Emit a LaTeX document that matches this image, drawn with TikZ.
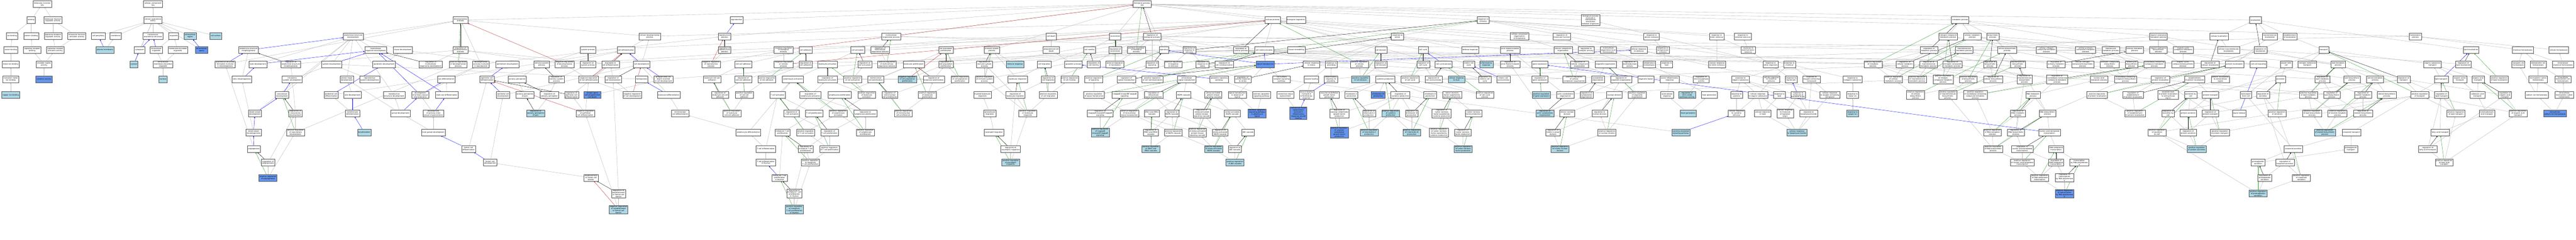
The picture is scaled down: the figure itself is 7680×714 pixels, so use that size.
\documentclass[tikz,border=0pt]{standalone}
\usepackage{fontspec}
\setmainfont{DejaVu Sans}
\usetikzlibrary{arrows.meta,backgrounds}
\definecolor{lb}{HTML}{ADD8E6}
\definecolor{cfb}{HTML}{6495ED}
\definecolor{eg}{HTML}{BEBEBE}
\definecolor{gg}{HTML}{2E9B2E}
\definecolor{rr}{HTML}{C0282D}
\definecolor{bd}{HTML}{505050}
\tikzset{
 nb/.style={draw=bd, line width=0.9pt, fill=white, align=center, font=\fontsize{5.2}{6}\selectfont, inner xsep=2.5pt, inner ysep=1.5pt, minimum height=20pt},
 nl/.style={nb, fill=lb},
 nc/.style={nb, fill=cfb},
 tip/.style={-{Triangle[length=3.6pt,width=3pt]}},
 ge/.style={tip, draw=eg, fill=eg, line width=0.6pt},
 be/.style={tip, draw=blue, line width=0.6pt},
 ke/.style={tip, draw=black, line width=0.6pt},
 gre/.style={tip, draw=gg, line width=0.6pt},
 re/.style={tip, draw=rr, line width=0.6pt}
}
\newcommand{\GN}[4]{\node[nb] (#1) at (#2,#3) {#4};}
\newcommand{\GL}[4]{\node[nl] (#1) at (#2,#3) {#4};}
\newcommand{\GC}[4]{\node[nc] (#1) at (#2,#3) {#4};}
\begin{document}
\begin{tikzpicture}[x=1pt,y=-1pt]
\useasboundingbox (0,0) rectangle (7680,714);
% ---------- molecular function ----------
\GN{mf}{126}{12}{molecular\_function\\ll2s}
\GN{binding}{93}{60}{binding}
\GN{mfreg}{158}{60}{molecular function\\regulator activity}
\GN{ionb}{36}{107}{ion binding}
\GN{protb}{93}{107}{protein binding}
\GN{srra}{158}{107}{signaling receptor\\regulator activity}
\GN{mfact}{229}{107}{molecular function\\activator activity}
\GN{cationb}{32}{149}{cation binding}
\GN{srb}{96}{149}{signaling receptor\\binding}
\GN{sraa}{165}{149}{signaling receptor\\activator activity}
\GN{metalb}{32}{191}{metal ion binding}
\GN{rla}{131}{191}{receptor ligand\\activity}
\GN{tmib}{32}{236}{transition metal\\ion binding}
\GC{cytact}{131}{236}{cytokine activity}
\GL{copper}{32}{283}{copper ion binding}
% ---------- cellular component ----------
\GN{cc}{456}{12}{cellular\_component\\ll2s}
\GN{cae}{456}{60}{cellular anatomical\\entity}
\GN{cellper}{293}{107}{cell periphery}
\GN{membrane}{345}{107}{membrane}
\GN{ias}{456}{107}{intracellular\\anatomical structure}
\GN{organelle}{518}{107}{organelle}
\GL{extreg}{567}{107}{extracellular\\region}
\GL{cellsurf}{643}{107}{cell surface}
\GL{pm}{313}{149}{plasma membrane}
\GN{cytoplasm}{416}{149}{cytoplasm}
\GN{intorg}{466}{149}{intracellular\\organelle}
\GN{mbo}{530}{149}{membrane-bounded\\organelle}
\GC{extspace}{601}{149}{extracellular\\space}
\GL{cytosol}{399}{191}{cytosol}
\GN{imbo}{486}{191}{intracellular\\membrane-bounded\\organelle}
\GL{nucleus}{486}{236}{nucleus}
% ---------- development ----------
\GN{asd}{1053}{108}{anatomical structure\\development}
\GN{asm}{741}{149}{anatomical structure\\morphogenesis}
\GN{mod}{1120}{149}{multicellular\\organism development}
\GN{tissued}{1201}{149}{tissue development}
\GN{asfim}{671}{191}{anatomical structure\\formation involved\\in morphogenesis}
\GN{tubed}{769}{191}{tube development}
\GN{rasm}{867}{191}{regulation of\\anatomical structure\\morphogenesis}
\GN{sysdev}{989}{191}{system development}
\GN{epidev}{1145}{191}{epidermis development}
\GN{rmod}{1284}{191}{regulation of\\multicellular\\organismal development}
\GN{tubem}{721}{236}{tube morphogenesis}
\GN{circd}{871}{236}{circulatory\\system development}
\GN{aod}{1034}{236}{animal organ\\development}
\GN{rsd}{1102}{236}{reproductive\\system development}
\GN{vascd}{841}{283}{vasculature\\development}
\GN{epicd}{987}{283}{epidermal cell\\differentiation}
\GN{skind}{1051}{283}{skin development}
\GN{rsd2}{1175}{283}{reproductive\\structure development}
\GN{dpsc}{1253}{283}{development\\of primary sexual\\characteristics}
\GN{bvd}{760}{337}{blood vessel\\development}
\GN{rvd}{881}{337}{regulation of\\vasculature\\development}
\GN{kerd}{1051}{337}{keratinocyte\\differentiation}
\GN{gonad}{1194}{337}{gonad development}
\GN{dpmsc}{1292}{337}{development\\of primary male\\sexual characteristics}
\GN{bvm}{756}{394}{blood vessel\\morphogenesis}
\GN{prvd}{881}{394}{positive regulation\\of vasculature\\development}
\GL{kerat}{1086}{394}{keratinization}
\GN{mgd}{1292}{394}{male gonad development}
\GN{angio}{757}{443}{angiogenesis}
\GN{rangio}{799}{484}{regulation of\\angiogenesis}
\GC{prangio}{799}{529}{positive regulation\\of angiogenesis}
\GN{devp}{1373}{60}{developmental\\process}
\GN{rdevp}{1373}{149}{regulation of\\developmental\\process}
\GN{sysproc}{1753}{149}{system process}
\GN{celldiff}{1866}{149}{cell differentiation}
\GN{cdp}{1937}{108}{cellular developmental\\process}
\GN{prdevp}{1366}{191}{positive regulation\\of developmental\\process}
\GN{dpir}{1434}{191}{developmental\\process involved\\in reproduction}
\GN{epithd}{1513}{191}{epithelium development}
\GN{nsp}{1615}{191}{nervous system\\process}
\GN{nrdevp}{1683}{191}{negative regulation\\of developmental\\process}
\GN{rsysp}{1753}{191}{regulation of\\system process}
\GN{rcelldiff}{1820}{191}{regulation of\\cell differentiation}
\GN{celldev}{1913}{191}{cell development}
\GN{sexdiff}{1331}{236}{sex differentiation}
\GN{epcd}{1452}{236}{epithelial cell\\differentiation}
\GN{sensp}{1542}{236}{sensory perception}
\GN{rnsp}{1659}{236}{regulation of\\nervous system\\process}
\GN{nrcd}{1755}{236}{negative regulation\\of cell differentiation}
\GN{rcelldev}{1828}{236}{regulation of\\cell development}
\GN{hemo}{1913}{236}{hemopoiesis}
\GN{msd}{1332}{283}{male sex differentiation}
\GN{epcdev}{1500}{283}{epithelial cell\\development}
\GN{spp}{1565}{283}{sensory perception\\of pain}
\GN{rsp}{1638}{283}{regulation of\\sensory perception}
\GN{repcd}{1704}{283}{regulation of\\epithelial cell\\differentiation}
\GC{egcpcd}{1766}{283}{ectopic germ\\cell programmed\\cell death}
\GN{nrcdev}{1885}{283}{negative regulation\\of cell development}
\GL{rspp}{1597}{337}{regulation of\\sensory perception\\of pain}
\GN{nrepcd}{1745}{337}{negative regulation\\of epithelial\\cell differentiation}
\GN{scd}{1397}{443}{Sertoli cell\\differentiation}
\GN{scdev}{1461}{484}{Sertoli cell\\development}
\GN{escb}{1762}{529}{establishment\\of Sertoli cell\\barrier}
\GN{rescb}{1844}{576}{regulation of\\establishment\\of Sertoli cell\\barrier}
\GL{nrescb}{1844}{624}{negative regulation\\of establishment\\of Sertoli cell\\barrier}
% ---------- reproduction / adhesion / lymphocytes ----------
\GN{repro}{2196}{60}{reproduction}
\GN{reprop}{2160}{108}{reproductive\\process}
\GN{rreprop}{2160}{149}{regulation of\\reproductive\\process}
\GN{nrbp}{2336}{149}{negative regulation\\of biological\\process}
\GN{celladh}{2402}{149}{cell adhesion}
\GN{cellact}{2557}{149}{cell activation}
\GN{nrrp}{2120}{191}{negative regulation\\of reproductive\\process}
\GN{ccadh}{2216}{191}{cell-cell adhesion}
\GN{nrcp}{2336}{191}{negative regulation\\of cellular\\process}
\GN{rcelladh}{2402}{191}{regulation of\\cell adhesion}
\GN{leukact}{2467}{191}{leukocyte activation}
\GN{rcellact}{2578}{191}{regulation of\\cell activation}
\GN{pcdinv}{1978}{236}{programmed cell\\death involved\\in cell development}
\GN{lcca}{2123}{236}{leukocyte cell-cell\\adhesion}
\GN{rccadh}{2216}{236}{regulation of\\cell-cell adhesion}
\GN{prcelladh}{2286}{236}{positive regulation\\of cell adhesion}
\GN{lymact}{2364}{236}{lymphocyte activation}
\GN{rleukact}{2467}{236}{regulation of\\leukocyte activation}
\GN{prcellact}{2542}{236}{positive regulation\\of cell activation}
\GN{leukdiff}{1994}{283}{leukocyte differentiation}
\GN{rlcca}{2147}{283}{regulation of\\leukocyte cell-cell\\adhesion}
\GN{prccadh}{2219}{283}{positive regulation\\of cell-cell\\adhesion}
\GN{tcellact}{2318}{283}{T cell activation}
\GN{rlymact}{2416}{283}{regulation of\\lymphocyte activation}
\GN{lymprolif}{2503}{283}{lymphocyte proliferation}
\GN{prleukact}{2584}{283}{positive regulation\\of leukocyte\\activation}
\GN{mcd}{2028}{337}{mononuclear\\cell differentiation}
\GN{prlcca}{2182}{337}{positive regulation\\of leukocyte\\cell-cell adhesion}
\GN{rtca}{2360}{337}{regulation of\\T cell activation}
\GN{tcp}{2427}{337}{T cell proliferation}
\GN{prlymact}{2499}{337}{positive regulation\\of lymphocyte\\activation}
\GN{rlymprolif}{2580}{337}{regulation of\\lymphocyte proliferation}
\GN{lymdiff}{2231}{394}{lymphocyte differentiation}
\GN{itcp}{2333}{394}{immature T cell\\proliferation}
\GN{prtca}{2402}{394}{positive regulation\\of T cell activation}
\GN{rtcp}{2473}{394}{regulation of\\T cell proliferation}
\GN{prlymprolif}{2580}{394}{positive regulation\\of lymphocyte\\proliferation}
\GN{tcd}{2283}{443}{T cell differentiation}
\GN{ritcp}{2402}{443}{regulation of\\immature T cell\\proliferation}
\GN{prtcp}{2473}{443}{positive regulation\\of T cell proliferation}
\GN{tcdt}{2283}{484}{T cell differentiation\\in thymus}
\GN{pritcp}{2416}{484}{positive regulation\\of immature\\T cell proliferation}
\GN{itcpt}{2324}{529}{immature T cell\\proliferation\\in thymus}
\GN{ritcpt}{2368}{576}{regulation of\\immature T cell\\proliferation\\in thymus}
\GL{pritcpt}{2368}{624}{positive regulation\\of immature\\T cell proliferation\\in thymus}
% ---------- proliferation / immune / migration ----------
\GN{mop}{2657}{108}{multicellular\\organismal process}
\GN{celldeath}{3134}{108}{cell death}
\GN{rmop}{2624}{149}{regulation of\\multicellular\\organismal process}
\GN{cpp}{2820}{149}{cell population\\proliferation}
\GN{isp}{2957}{149}{immune system\\process}
\GN{pcd}{3134}{149}{programmed cell\\death}
\GN{prmop}{2644}{191}{positive regulation\\of multicellular\\organismal process}
\GN{leukprolif}{2724}{191}{leukocyte proliferation}
\GN{rcpp}{2820}{191}{regulation of\\cell population\\proliferation}
\GN{risp}{2935}{191}{regulation of\\immune system\\process}
\GL{immresp}{3026}{191}{immune response}
\GN{cellmig}{3113}{191}{cell migration}
\GN{apoptotic}{3200}{191}{apoptotic process}
\GN{mcprolif}{2611}{236}{mononuclear\\cell proliferation}
\GL{nrcpp}{2705}{236}{negative regulation\\of cell population\\proliferation}
\GN{rleukprolif}{2784}{236}{regulation of\\leukocyte proliferation}
\GN{prcpp}{2862}{236}{positive regulation\\of cell population\\proliferation}
\GN{prisp}{2935}{236}{positive regulation\\of immune system\\process}
\GN{leukmig}{3034}{236}{leukocyte migration}
\GN{rcellmig}{3125}{236}{regulation of\\cell migration}
\GN{prcellmot}{3189}{236}{positive regulation\\of cell motility}
\GN{rmcprolif}{2653}{283}{regulation of\\mononuclear\\cell proliferation}
\GN{prleukprolif}{2765}{283}{positive regulation\\of leukocyte\\proliferation}
\GN{mlm}{2929}{283}{myeloid leukocyte\\migration}
\GN{rleukmig}{3027}{283}{regulation of\\leukocyte migration}
\GN{prcellmig}{3125}{283}{positive regulation\\of cell migration}
\GN{prmcprolif}{2693}{337}{positive regulation\\of mononuclear\\cell proliferation}
\GN{granmig}{2951}{337}{granulocyte\\migration}
\GN{prleukmig}{3064}{337}{positive regulation\\of leukocyte\\migration}
\GN{neutmig}{2963}{394}{neutrophil migration}
\GN{rneutmig}{3013}{443}{regulation of\\neutrophil migration}
\GL{prneutmig}{3013}{484}{positive regulation\\of neutrophil\\migration}
% ---------- signaling ----------
\GN{bp}{3405}{12}{biological\_process\\ll2s}
\GN{cellproc}{3794}{60}{cellular process}
\GN{bioreg}{3864}{60}{biological regulation}
\GN{locomotion}{3325}{108}{locomotion}
\GN{rbp}{3435}{108}{regulation of\\biological process}
\GN{cellmot}{3248}{149}{cell motility}
\GN{rloco}{3325}{149}{regulation of\\locomotion}
\GN{prbp}{3388}{149}{positive regulation\\of biological\\process}
\GN{signaling}{3470}{149}{signaling}
\GN{rrs}{3546}{149}{regulation of\\response to\\stimulus}
\GN{rcp}{3700}{149}{regulation of\\cellular process}
\GN{cellcomm}{3769}{149}{cell communication}
\GN{tissrem}{3865}{149}{tissue remodeling}
\GN{rcellmot}{3261}{191}{regulation of\\cell motility}
\GN{prloco}{3324}{191}{positive regulation\\of locomotion}
\GN{rsignaling}{3435}{191}{regulation of\\signaling}
\GN{prrs}{3498}{191}{positive regulation\\of response\\to stimulus}
\GN{rrstress}{3585}{191}{regulation of\\response to\\stress}
\GN{rcc}{3650}{191}{regulation of\\cell communication}
\GC{sigtrans}{3772}{191}{signal transduction}
\GN{prsignaling}{3261}{236}{positive regulation\\of signaling}
\GN{rst}{3358}{236}{regulation of\\signal transduction}
\GN{prcc}{3436}{236}{positive regulation\\of cell communication}
\GN{ist}{3538}{236}{intracellular\\signal transduction}
\GN{asp}{3635}{236}{apoptotic signaling\\pathway}
\GN{rcrs}{3705}{236}{regulation of\\cellular response\\to stress}
\GN{csrsp}{3821}{236}{cell surface\\receptor signaling\\pathway}
\GN{prst}{3262}{283}{positive regulation\\of signal transduction}
\GN{ikb}{3353}{283}{I-kappaB kinase/NF-kappaB\\signaling}
\GN{rist}{3439}{283}{regulation of\\intracellular\\signal transduction}
\GN{mapk}{3529}{283}{MAPK cascade}
\GN{sapk}{3617}{283}{stress-activated\\protein kinase\\signaling cascade}
\GN{stal}{3689}{283}{signal transduction\\in absence of\\ligand}
\GN{easp}{3761}{283}{extrinsic apoptotic\\signaling pathway}
\GN{ctr}{3832}{283}{connective tissue\\replacement}
\GN{rikb}{3280}{337}{regulation of\\I-kappaB kinase/NF-kappaB\\signaling}
\GN{prist}{3367}{337}{positive regulation\\of intracellular\\signal transduction}
\GN{erk}{3434}{337}{ERK1 and ERK2\\cascade}
\GN{rmapk}{3494}{337}{regulation of\\MAPK cascade}
\GN{rsapk}{3583}{337}{regulation of\\stress-activated\\protein kinase\\signaling cascade}
\GN{samapk}{3674}{337}{stress-activated\\MAPK cascade}
\GC{easpal}{3748}{337}{extrinsic apoptotic\\signaling pathway\\in absence of\\ligand}
\GL{prikb}{3280}{394}{positive regulation\\of I-kappaB\\kinase/NF-kappaB\\signaling}
\GN{rerk}{3431}{394}{regulation of\\ERK1 and ERK2\\cascade}
\GN{prmapk}{3498}{394}{positive regulation\\of MAPK cascade}
\GN{prsapk}{3570}{394}{positive regulation\\of stress-activated\\protein kinase\\signaling cascade}
\GN{rsamapk}{3638}{394}{regulation of\\stress-activated\\MAPK cascade}
\GN{jnk}{3721}{394}{JNK cascade}
\GL{prerk}{3431}{443}{positive regulation\\of ERK1 and\\ERK2 cascade}
\GL{prsamapk}{3618}{443}{positive regulation\\of stress-activated\\MAPK cascade}
\GN{rjnk}{3681}{443}{regulation of\\JNK cascade}
\GL{prjnk}{3682}{484}{positive regulation\\of JNK cascade}
% ---------- stress / cell cycle / cytokines ----------
\GN{rts}{4422}{60}{response to\\stimulus}
\GN{rtstress}{4166}{108}{response to\\stress}
\GN{celldiv}{4117}{149}{cell division}
\GN{cellcycle}{4243}{149}{cell cycle}
\GN{defresp}{4383}{149}{defense response}
\GN{afbp}{4502}{149}{actin filament-based\\process}
\GN{crstress}{3910}{191}{cellular response\\to stress}
\GN{rtw}{3969}{191}{response to\\wounding}
\GN{prcp}{4053}{191}{positive regulation\\of cellular\\process}
\GN{rcelldiv}{4117}{191}{regulation of\\cell division}
\GN{rcellcycle}{4243}{191}{regulation of\\cell cycle}
\GN{ccp}{4304}{191}{cell cycle process}
\GN{mcc}{4379}{191}{mitotic cell\\cycle}
\GL{inflresp}{4431}{191}{inflammatory\\response}
\GN{rafbp}{4502}{191}{regulation of\\actin filament-based\\process}
\GN{woundh}{3910}{236}{wound healing}
\GN{irtw}{3968}{236}{inflammatory\\response to\\wounding}
\GL{prcelldiv}{4056}{236}{positive regulation\\of cell division}
\GN{cytprod}{4130}{236}{cytokine production}
\GN{prcellcycle}{4204}{236}{positive regulation\\of cell cycle}
\GN{rccp}{4274}{236}{regulation of\\cell cycle process}
\GL{crheat}{4342}{236}{cellular response\\to heat}
\GN{rmcc}{4427}{236}{regulation of\\mitotic cell\\cycle}
\GN{mccp}{4482}{236}{mitotic cell\\cycle process}
\GN{whiir}{3895}{283}{wound healing\\involved in\\inflammatory\\response}
\GN{vegfp}{3963}{283}{vascular endothelial\\growth factor\\production}
\GN{il2p}{4029}{283}{interleukin-2\\production}
\GC{il33p}{4109}{283}{interleukin-33\\production}
\GN{rcytprod}{4175}{283}{regulation of\\cytokine production}
\GN{il6p}{4264}{283}{interleukin-6\\production}
\GN{tnfsfp}{4329}{283}{tumor necrosis\\factor superfamily\\cytokine production}
\GN{prccp}{4427}{283}{positive regulation\\of cell cycle\\process}
\GC{ctrinv}{3871}{337}{connective tissue\\replacement\\involved in\\inflammatory\\response wound\\healing}
\GN{rvegfp}{3993}{337}{regulation of\\vascular endothelial\\growth factor\\production}
\GN{ril2p}{4082}{337}{regulation of\\interleukin-2\\production}
\GL{prcytprod}{4146}{337}{positive regulation\\of cytokine\\production}
\GN{ril6p}{4209}{337}{regulation of\\interleukin-6\\production}
\GN{rtnfsfp}{4298}{337}{regulation of\\tumor necrosis\\factor superfamily\\cytokine production}
\GN{tnfp}{4393}{337}{tumor necrosis\\factor production}
\GC{prvegfp}{3993}{394}{positive regulation\\of vascular\\endothelial\\growth factor\\production}
\GL{pril2p}{4082}{394}{positive regulation\\of interleukin-2\\production}
\GL{pril6p}{4209}{394}{positive regulation\\of interleukin-6\\production}
\GN{prtnfsfp}{4290}{394}{positive regulation\\of tumor necrosis\\factor superfamily\\cytokine production}
\GN{rtnfp}{4361}{394}{regulation of\\tumor necrosis\\factor production}
\GL{prtnfp}{4362}{443}{positive regulation\\of tumor necrosis\\factor production}
% ---------- organization / gene expression ----------
\GN{bpinter}{4742}{60}{biological process\\involved in\\interspecies\\interaction\\between organisms}
\GN{ccob}{4530}{108}{cellular component\\organization\\or biogenesis}
\GN{rmf}{4656}{108}{regulation of\\molecular function}
\GN{rtas}{4924}{108}{response to\\abiotic stimulus}
\GN{rtbs}{5118}{108}{response to\\biotic stimulus}
\GN{cco}{4660}{149}{cellular component\\organization}
\GN{rca}{4729}{149}{regulation of\\catalytic activity}
\GN{molh}{4795}{149}{multicellular\\organismal-level\\homeostasis}
\GN{crstim}{4886}{149}{cellular response\\to stimulus}
\GN{rttemp}{4958}{149}{response to\\temperature\\stimulus}
\GN{geneexp}{4591}{191}{gene expression}
\GN{rcco}{4709}{191}{regulation of\\cellular component\\organization}
\GN{orgorg}{4787}{191}{organelle organization}
\GN{roa}{4859}{191}{regulation of\\oxidoreductase\\activity}
\GN{temph}{4917}{191}{temperature\\homeostasis}
\GN{rtheat}{4969}{191}{response to\\heat}
\GN{crbs}{5119}{191}{cellular response\\to biotic stimulus}
\GN{rgeneexp}{4591}{236}{regulation of\\gene expression}
\GN{prcco}{4693}{236}{positive regulation\\of cellular\\component organization}
\GN{cytoorg}{4764}{236}{cytoskeleton\\organization}
\GN{rorgorg}{4833}{236}{regulation of\\organelle organization}
\GN{orgfis}{4907}{236}{organelle fission}
\GN{air}{4978}{236}{acute inflammatory\\response}
\GN{rmono}{5072}{236}{regulation of\\monooxygenase\\activity}
\GL{prgeneexp}{4595}{283}{positive regulation\\of gene expression}
\GN{acto}{4667}{283}{actin cytoskeleton\\organization}
\GN{rcytoorg}{4730}{283}{regulation of\\cytoskeleton\\organization}
\GN{nucdiv}{4813}{283}{nuclear division}
\GN{prorgorg}{4881}{283}{positive regulation\\of organelle\\organization}
\GN{apr}{4970}{283}{acute-phase\\response}
\GL{rnos}{5030}{283}{regulation of\\nitric-oxide\\synthase activity}
\GN{heatgen}{5096}{283}{heat generation}
\GL{racto}{4606}{337}{regulation of\\actin cytoskeleton\\organization}
\GN{mnd}{4672}{337}{mitotic nuclear\\division}
\GN{rnucdiv}{4769}{337}{regulation of\\nuclear division}
\GL{fevergen}{5033}{337}{fever generation}
\GN{rmnd}{4630}{394}{regulation of\\mitotic nuclear\\division}
\GN{prnucdiv}{4791}{394}{positive regulation\\of nuclear division}
\GL{cmsp}{5011}{394}{cytokine-mediated\\signaling pathway}
\GL{prmnd}{4651}{443}{positive regulation\\of mitotic nuclear\\division}
% ---------- responses to chemicals ----------
\GN{rtes}{5196}{108}{response to\\external stimulus}
\GN{rtebs}{5212}{149}{response to\\external biotic\\stimulus}
\GN{rtoo}{5279}{191}{response to\\other organism}
\GN{rtchem}{5335}{191}{response to\\chemical}
\GN{prmp}{5584}{191}{positive regulation\\of metabolic\\process}
\GN{rcmp}{5679}{191}{regulation of\\cellular metabolic\\process}
\GN{rmmp}{5750}{191}{regulation of\\macromolecule\\metabolic process}
\GN{rmp}{5751}{149}{regulation of\\metabolic process}
\GN{rtos}{5189}{236}{response to\\organic substance}
\GN{crcs}{5281}{236}{cellular response\\to chemical\\stimulus}
\GN{rtbact}{5340}{236}{response to\\bacterium}
\GN{rtocc}{5401}{236}{response to\\oxygen-containing\\compound}
\GN{rtis}{5523}{236}{response to\\inorganic substance}
\GN{prcmp}{5645}{236}{positive regulation\\of cellular\\metabolic process}
\GN{prmmp}{5716}{236}{positive regulation\\of macromolecule\\metabolic process}
\GN{rtcyt}{5177}{283}{response to\\cytokine}
\GN{crtos}{5241}{283}{cellular response\\to organic substance}
\GN{rtlipid}{5305}{283}{response to\\lipid}
\GN{rtmbo}{5361}{283}{response to\\molecule of\\bacterial origin}
\GN{crocc}{5455}{283}{cellular response\\to oxygen-containing\\compound}
\GN{rtmi}{5523}{283}{response to\\metal ion}
\GN{prcbp}{5711}{283}{positive regulation\\of cellular\\biosynthetic\\process}
\GN{crcyt}{5177}{337}{cellular response\\to cytokine\\stimulus}
\GN{crlipid}{5255}{337}{cellular response\\to lipid}
\GN{crmbo}{5322}{337}{cellular response\\to molecule\\of bacterial\\origin}
\GN{rtlps}{5392}{337}{response to\\lipopolysaccharide}
\GL{rtcopper}{5523}{337}{response to\\copper ion}
\GL{crlps}{5357}{394}{cellular response\\to lipopolysaccharide}
% ---------- metabolism ----------
\GN{metproc}{5844}{60}{metabolic process}
\GN{ncmp}{5808}{108}{nitrogen compound\\metabolic process}
\GN{cmp}{5880}{108}{cellular metabolic\\process}
\GN{biosyn}{5941}{108}{biosynthetic\\process}
\GN{mmp}{5856}{149}{macromolecule\\metabolic process}
\GN{cbp}{5984}{149}{cellular biosynthetic\\process}
\GN{cncmp}{6101}{149}{cellular nitrogen\\compound metabolic\\process}
\GN{cacmp}{6218}{149}{cellular aromatic\\compound metabolic\\process}
\GN{hmp}{6293}{149}{heterocycle\\metabolic process}
\GN{pmp}{6364}{149}{primary metabolic\\process}
\GN{rncmp}{5821}{191}{regulation of\\nitrogen compound\\metabolic process}
\GN{rbiosyn}{5933}{191}{regulation of\\biosynthetic\\process}
\GN{mbp}{6016}{191}{macromolecule\\biosynthetic\\process}
\GN{rpmp}{6130}{191}{regulation of\\primary metabolic\\process}
\GN{cncbp}{6209}{191}{cellular nitrogen\\compound biosynthetic\\process}
\GN{acbp}{6290}{191}{aromatic compound\\biosynthetic\\process}
\GN{hbp}{6355}{191}{heterocycle\\biosynthetic\\process}
\GN{nbcmp}{6423}{191}{nucleobase-containing\\compound metabolic\\process}
\GN{prncmp}{5793}{236}{positive regulation\\of nitrogen\\compound metabolic\\process}
\GN{prbiosyn}{5868}{236}{positive regulation\\of biosynthetic\\process}
\GN{rcbp}{5942}{236}{regulation of\\cellular biosynthetic\\process}
\GN{rmbp}{6036}{236}{regulation of\\macromolecule\\biosynthetic\\process}
\GN{rncbcmp}{6133}{236}{regulation of\\nucleobase-containing\\compound metabolic\\process}
\GN{nucacid}{6258}{236}{nucleic acid\\metabolic process}
\GN{ncbp}{6337}{236}{nucleobase-containing\\compound biosynthetic\\process}
\GN{prmbp}{5807}{283}{positive regulation\\of macromolecule\\biosynthetic\\process}
\GN{prncbcmp}{5889}{283}{positive regulation\\of nucleobase-containing\\compound metabolic\\process}
\GN{rnamp}{6061}{283}{RNA metabolic\\process}
\GN{prpl}{6252}{283}{positive regulation\\of protein localization}
\GN{repl}{6359}{283}{regulation of\\establishment\\of protein localization}
\GN{rrnamp}{6016}{337}{regulation of\\RNA metabolic\\process}
\GN{rnabp}{6104}{337}{RNA biosynthetic\\process}
\GN{prepl}{6365}{337}{positive regulation\\of establishment\\of protein localization}
\GN{prrnamp}{5940}{394}{positive regulation\\of RNA metabolic\\process}
\GN{rrnabp}{6010}{394}{regulation of\\RNA biosynthetic\\process}
\GN{natt}{6110}{394}{nucleic acid-templated\\transcription}
\GN{prrnabp}{5942}{443}{positive regulation\\of RNA biosynthetic\\process}
\GN{rnatt}{6029}{443}{regulation of\\nucleic acid-templated\\transcription}
\GN{dtt}{6130}{443}{DNA-templated\\transcription}
\GN{prnatt}{6029}{484}{positive regulation\\of nucleic acid-templated\\transcription}
\GN{rdtt}{6130}{484}{regulation of\\DNA-templated\\transcription}
\GN{trnap2}{6199}{484}{transcription\\by RNA polymerase\\II}
\GN{prdtt}{6081}{529}{positive regulation\\of DNA-templated\\transcription}
\GN{rtrnap2}{6155}{529}{regulation of\\transcription\\by RNA polymerase\\II}
\GC{prtrnap2}{6155}{576}{positive regulation\\of transcription\\by RNA polymerase\\II}
% ---------- localization / secretion ----------
\GN{localization}{6724}{60}{localization}
\GN{osmp}{6435}{108}{organic substance\\metabolic process}
\GN{cellloc}{6616}{108}{cellular localization}
\GN{mmloc}{6767}{108}{macromolecule\\localization}
\GN{estloc}{6827}{108}{establishment\\of localization}
\GN{osbp}{6435}{149}{organic substance\\biosynthetic\\process}
\GN{occmp}{6509}{149}{organic cyclic\\compound metabolic\\process}
\GN{cmmloc}{6644}{149}{cellular macromolecule\\localization}
\GN{rloc}{6739}{149}{regulation of\\localization}
\GN{transport}{6928}{149}{transport}
\GN{occbp}{6508}{191}{organic cyclic\\compound biosynthetic\\process}
\GN{rcellloc}{6589}{191}{regulation of\\cellular localization}
\GN{protloc}{6662}{191}{protein localization}
\GN{ccsig}{6733}{191}{cell-cell signaling}
\GN{exportcell}{6816}{191}{export from\\cell}
\GN{nct}{6879}{191}{nitrogen compound\\transport}
\GN{lmp}{6971}{191}{lipid metabolic\\process}
\GN{rpl}{6441}{236}{regulation of\\protein localization}
\GN{epl}{6543}{236}{establishment\\of protein localization}
\GN{pltecr}{6620}{236}{protein localization\\to extracellular\\region}
\GN{secretion}{6799}{236}{secretion}
\GN{rlmp}{6924}{236}{regulation of\\lipid metabolic\\process}
\GN{lbp}{7012}{236}{lipid biosynthetic\\process}
\GN{epltecr}{6464}{283}{establishment\\of protein localization\\to extracellular\\region}
\GN{secbycell}{6531}{283}{secretion by\\cell}
\GN{prottrans}{6590}{283}{protein transport}
\GN{lipexp}{6696}{283}{lipid export\\from cell}
\GN{rsec}{6747}{283}{regulation of\\secretion}
\GN{prlmp}{6882}{283}{positive regulation\\of lipid metabolic\\process}
\GN{rlbp}{6952}{283}{regulation of\\lipid biosynthetic\\process}
\GN{rsmp}{7045}{283}{regulation of\\steroid metabolic\\process}
\GN{rsecbycell}{6464}{337}{regulation of\\secretion by\\cell}
\GN{protsec}{6524}{337}{protein secretion}
\GN{rprottrans}{6590}{337}{regulation of\\protein transport}
\GN{sigrel}{6676}{337}{signal release}
\GN{prsec}{6789}{337}{positive regulation\\of secretion}
\GN{prlbp}{6893}{337}{positive regulation\\of lipid biosynthetic\\process}
\GN{prsmp}{6969}{337}{positive regulation\\of steroid metabolic\\process}
\GN{rsbp}{7045}{337}{regulation of\\steroid biosynthetic\\process}
\GN{prsecbycell}{6431}{394}{positive regulation\\of secretion\\by cell}
\GN{rprotsec}{6524}{394}{regulation of\\protein secretion}
\GN{prprottrans}{6618}{394}{positive regulation\\of protein transport}
\GL{prsbp}{6931}{394}{positive regulation\\of steroid biosynthetic\\process}
\GN{icotrans}{7010}{394}{icosanoid transport}
\GL{prprotsec}{6549}{443}{positive regulation\\of protein secretion}
\GN{icosec}{6837}{443}{icosanoid secretion}
\GN{pgtrans}{7009}{443}{prostaglandin\\transport}
\GN{pgsec}{6732}{484}{prostaglandin\\secretion}
\GN{ricosec}{6812}{484}{regulation of\\icosanoid secretion}
\GN{rpgsec}{6752}{529}{regulation of\\prostaglandin\\secretion}
\GN{pricosec}{6861}{529}{positive regulation\\of icosanoid\\secretion}
\GL{prpgsec}{6732}{576}{positive regulation\\of prostaglandin\\secretion}
% ---------- homeostasis / transport ----------
\GN{homeo}{7201}{108}{homeostatic\\process}
\GN{lipidloc}{7367}{149}{lipid localization}
\GN{chemh}{7521}{149}{chemical homeostasis}
\GN{cellh}{7628}{149}{cellular homeostasis}
\GN{ost}{7252}{191}{organic substance\\transport}
\GN{rlipidloc}{7344}{191}{regulation of\\lipid localization}
\GN{inorgh}{7508}{191}{inorganic ion\\homeostasis}
\GN{monoh}{7567}{191}{monoatomic ion\\homeostasis}
\GN{icch}{7641}{191}{intracellular\\chemical homeostasis}
\GN{smp}{7081}{236}{steroid metabolic\\process}
\GN{rtransport}{7166}{236}{regulation of\\transport}
\GN{liptrans}{7278}{236}{lipid transport}
\GN{oat}{7334}{236}{organic anion\\transport}
\GN{oacidt}{7388}{236}{organic acid\\transport}
\GN{prlipidloc}{7451}{236}{positive regulation\\of lipid localization}
\GN{mch}{7567}{236}{monoatomic cation\\homeostasis}
\GN{imih}{7641}{236}{intracellular\\monoatomic ion\\homeostasis}
\GN{sbp}{7116}{283}{steroid biosynthetic\\process}
\GN{prtransport}{7214}{283}{positive regulation\\of transport}
\GN{rliptrans}{7279}{283}{regulation of\\lipid transport}
\GN{cat}{7386}{283}{carboxylic acid\\transport}
\GN{roat}{7468}{283}{regulation of\\organic acid\\transport}
\GN{sih}{7563}{283}{sodium ion homeostasis}
\GN{imch}{7645}{283}{intracellular\\monoatomic cation\\homeostasis}
\GN{prliptrans}{7322}{337}{positive regulation\\of lipid transport}
\GN{mcat}{7414}{337}{monocarboxylic\\acid transport}
\GN{proat}{7507}{337}{positive regulation\\of organic acid\\transport}
\GC{isih}{7617}{337}{intracellular\\sodium ion homeostasis}
\GN{fat}{7275}{394}{fatty acid transport}
\GN{rfat}{7238}{443}{regulation of\\fatty acid transport}
\GN{prfat}{7287}{484}{positive regulation\\of fatty acid\\transport}
% ================= edges =================
\begin{pgfonlayer}{background}
\fill[white] (0,0) rectangle (7680,714);
% gray (is a)
\foreach \a/\b in {binding/mf, mfreg/mf, ionb/binding, protb/binding, srra/mfreg, mfact/mfreg, cationb/ionb, srb/protb, sraa/srra, sraa/mfact, metalb/cationb, rla/srb, rla/sraa, tmib/metalb, cytact/rla, copper/tmib,
cae/cc, cellper/cae, membrane/cae, ias/cae, organelle/cae, extreg/cae, cellsurf/cae, cytoplasm/cae, cytosol/cae, extspace/cae, pm/membrane, intorg/organelle, mbo/organelle, imbo/intorg, imbo/mbo, nucleus/imbo,
asd/devp, asfim/devp, mod/asd, tissued/asd, tubed/asd, sysdev/asd, rasm/rdevp, epidev/tissued, rmod/rdevp, tubem/asm, circd/sysdev, aod/asd, rsd/sysdev, vascd/asd, epicd/celldiff, skind/aod, rsd2/asd, dpsc/dpir, bvd/asd, rvd/rasm, kerd/epicd, gonad/rsd2, gonad/aod, dpmsc/dpsc, bvm/tubem, prvd/rvd, prvd/prdevp, mgd/gonad, mgd/dpmsc, angio/asfim, rangio/rvd, prangio/rangio, prangio/prvd,
devp/bp, prdevp/rdevp, dpir/devp, dpir/reprop, epithd/tissued, nrdevp/rdevp, nrdevp/nrbp, sysproc/mop, celldiff/cdp, cdp/devp, cdp/cellproc, celldev/cdp, sexdiff/dpir, epcd/celldiff, sensp/nsp, nsp/sysproc, nrcd/rcelldiff, nrcd/nrdevp, rcelldev/rcelldiff, rcelldiff/rdevp, rnsp/rsysp, rsysp/rmop, msd/sexdiff, epcdev/celldev, spp/sensp, rsp/rnsp, repcd/rcelldiff, egcpcd/pcdinv, nrcdev/rcelldev, nrcdev/nrcd, rspp/rsp, nrepcd/repcd, nrepcd/nrcd, scd/epcd, scdev/epcdev, escb/scdev, nrescb/rescb, nrescb/nrepcd, rescb/rcelldev, hemo/sysdev,
repro/bp, reprop/bp, rreprop/rbp, nrrp/rreprop, nrrp/nrbp, ccadh/celladh, nrcp/nrbp, nrcp/rcp, leukact/cellact, celladh/cellproc, cellact/cellproc, pcdinv/pcd, lcca/ccadh, rccadh/rcelladh, prcelladh/rcelladh, lymact/leukact, prcellact/rcellact, rcellact/rcp, rleukact/rcellact, leukdiff/celldiff, rlcca/rccadh, prccadh/rccadh, prccadh/prcelladh, tcellact/lymact, rlymact/rleukact, lymprolif/leukprolif, prleukact/rleukact, prleukact/prcellact, mcd/leukdiff, prlcca/rlcca, prlcca/prccadh, rtca/rlymact, tcp/tcellact, tcp/lymprolif, prlymact/rlymact, prlymact/prleukact, rlymprolif/rlymact, lymdiff/mcd, lymdiff/lymact, itcp/tcp, prtca/rtca, prtca/prlymact, rtcp/rtca, rtcp/rlymprolif, prlymprolif/rlymprolif, prlymprolif/prlymact, tcd/lymdiff, tcd/tcellact, ritcp/rtcp, prtcp/rtcp, prtcp/prtca, tcdt/tcd, pritcp/ritcp, pritcp/prtcp, itcpt/itcp, ritcpt/ritcp, pritcpt/ritcpt, pritcpt/pritcp,
mop/bp, rmop/rbp, prmop/rmop, prmop/prbp, cpp/cellproc, nrcpp/rcpp, prcpp/rcpp, leukprolif/cpp, rleukprolif/rcpp, rleukprolif/rleukact, mcprolif/leukprolif, rmcprolif/rleukprolif, prmcprolif/rmcprolif, prmcprolif/prleukprolif, prleukprolif/rleukprolif, prleukprolif/prcpp, isp/bp, prisp/risp, immresp/isp, leukmig/cellmig, leukmig/isp, rleukmig/risp, rleukmig/rcellmig, prleukmig/rleukmig, prleukmig/prcellmig, prleukmig/prisp, mlm/leukmig, granmig/mlm, neutmig/granmig, rneutmig/rleukmig, prneutmig/rneutmig, prneutmig/prleukmig, cellmig/cellmot, rcellmig/rcellmot, prcellmig/rcellmig, prcellmig/prcellmot, celldeath/cellproc, pcd/celldeath, apoptotic/pcd, rcpp/rcp, risp/rbp, prisp/prbp,
locomotion/bp, prbp/rbp, cellmot/locomotion, cellmot/cellproc, rloco/rbp, prloco/rloco, prloco/prbp, signaling/bp, rcellmot/rloco, rsignaling/rbp, prsignaling/rsignaling, prsignaling/prrs, rrs/rbp, prrs/rrs, prrs/prbp, rcp/rbp, cellcomm/cellproc, rrstress/rrs, rcc/rcp, rst/rsignaling, rst/rcc, prst/rst, prst/prsignaling, prcc/rcc, ist/sigtrans, asp/sigtrans, rcrs/rrstress, csrsp/sigtrans, ikb/ist, rist/rst, mapk/ist, sapk/ist, stal/sigtrans, easp/asp, ctr/woundh, tissrem/mop, rikb/rist, prist/rist, prist/prst, erk/mapk, rmapk/rist, rsapk/rist, samapk/mapk, samapk/sapk, easpal/easp, easpal/stal, prikb/rikb, prikb/prist, rerk/rmapk, prmapk/rmapk, prmapk/prist, prsapk/rsapk, prsapk/prist, rsamapk/rmapk, rsamapk/rsapk, jnk/samapk, prerk/rerk, prerk/prmapk, prsamapk/rsamapk, prsamapk/prsapk, prsamapk/prmapk, rjnk/rsamapk, prjnk/rjnk, prjnk/prsamapk, bioreg/bp, rbp/bioreg, cellproc/bp,
rts/bp, rtstress/rts, celldiv/cellproc, cellcycle/cellproc, defresp/rtstress, afbp/cellproc, crstress/rtstress, crstress/crstim, rtw/rtstress, prcp/rcp, prcp/prbp, rcelldiv/rcp, rcellcycle/rcp, ccp/cellproc, mcc/cellcycle, inflresp/defresp, rafbp/rcp, woundh/rtw, irtw/rtw, irtw/inflresp, prcelldiv/rcelldiv, prcelldiv/prcp, prcellcycle/rcellcycle, prcellcycle/prcp, rccp/rcellcycle, crheat/rtheat, crheat/crstress, rmcc/rcellcycle, rmcc/rccp, mccp/ccp, whiir/woundh, vegfp/cytprod, il2p/cytprod, il33p/cytprod, il6p/cytprod, tnfsfp/cytprod, prccp/rccp, prccp/prcellcycle, ctrinv/ctr, rvegfp/rcytprod, ril2p/rcytprod, prcytprod/rcytprod, ril6p/rcytprod, rtnfsfp/rcytprod, tnfp/tnfsfp, prvegfp/rvegfp, prvegfp/prcytprod, pril2p/ril2p, pril2p/prcytprod, pril6p/ril6p, pril6p/prcytprod, prtnfsfp/rtnfsfp, prtnfsfp/prcytprod, rtnfp/rtnfsfp, prtnfp/rtnfp, prtnfp/prtnfsfp,
bpinter/bp, ccob/cellproc, rmf/bioreg, rtas/rts, rtbs/rts, cco/ccob, rca/rmf, molh/homeo, molh/mop, crstim/cellproc, crstim/rts, rttemp/rtas, geneexp/mmp, rcco/rcp, orgorg/cco, roa/rca, temph/molh, rtheat/rttemp, crbs/rtbs, crbs/crstim, rgeneexp/rmmp, prcco/rcco, prcco/prcp, cytoorg/orgorg, rorgorg/rcco, orgfis/orgorg, air/inflresp, rmono/roa, prgeneexp/rgeneexp, prgeneexp/prmmp, acto/cytoorg, acto/afbp, rcytoorg/rorgorg, nucdiv/orgfis, prorgorg/rorgorg, prorgorg/prcco, apr/air, rnos/rmono, heatgen/temph, racto/rcytoorg, racto/rafbp, mnd/nucdiv, rnucdiv/rorgorg, fevergen/apr, fevergen/heatgen, rmnd/rnucdiv, prnucdiv/rnucdiv, prnucdiv/prorgorg, prmnd/rmnd, prmnd/prnucdiv, cmsp/csrsp,
rtes/rts, rtebs/rtes, rtebs/rtbs, rtoo/rtebs, rtoo/bpinter, rtchem/rts, prmp/rmp, prmp/prbp, rcmp/rmp, rcmp/rcp, rmmp/rmp, rmp/rbp, rtos/rtchem, crcs/rtchem, crcs/crstim, rtbact/rtoo, rtocc/rtchem, rtis/rtchem, prcmp/rcmp, prcmp/prmp, prmmp/rmmp, prmmp/prmp, rtcyt/rtos, crtos/rtos, crtos/crcs, rtlipid/rtos, rtmbo/rtos, crocc/rtocc, crocc/crcs, rtmi/rtis, prcbp/prcmp, prcbp/rcbp, crcyt/rtcyt, crcyt/crtos, crlipid/rtlipid, crlipid/crtos, crmbo/rtmbo, crmbo/crtos, rtlps/rtmbo, rtlps/rtlipid, rtlps/rtocc, rtcopper/rtmi, crlps/crlipid, crlps/crmbo, crlps/rtlps, crlps/crocc,
metproc/bp, ncmp/metproc, cmp/metproc, biosyn/metproc, mmp/pmp, mmp/osmp, cbp/cmp, cbp/biosyn, cncmp/cmp, cncmp/ncmp, cacmp/cmp, hmp/cmp, pmp/metproc, rncmp/rmp, rbiosyn/rmp, mbp/mmp, mbp/biosyn, rpmp/rmp, cncbp/cncmp, cncbp/cbp, acbp/cacmp, hbp/hmp, nbcmp/cacmp, nbcmp/hmp, nbcmp/cncmp, prncmp/rncmp, prncmp/prmp, prbiosyn/rbiosyn, prbiosyn/prmp, rcbp/rbiosyn, rcbp/rcmp, rmbp/rbiosyn, rmbp/rmmp, rncbcmp/rpmp, rncbcmp/rncmp, nucacid/nbcmp, ncbp/nbcmp, ncbp/cncbp, ncbp/acbp, ncbp/hbp, prmbp/rmbp, prmbp/prbiosyn, prncbcmp/rncbcmp, prncbcmp/prncmp, rnamp/nucacid, prpl/rpl, repl/rpl, rrnamp/rncbcmp, rnabp/rnamp, rnabp/ncbp, rnabp/mbp, prepl/repl, prepl/prpl, prrnamp/rrnamp, prrnamp/prncbcmp, rrnabp/rrnamp, rrnabp/rmbp, natt/rnabp, prrnabp/rrnabp, prrnabp/prrnamp, prrnabp/prmbp, rnatt/rrnabp, dtt/natt, prnatt/rnatt, prnatt/prrnabp, rdtt/rnatt, trnap2/dtt, prdtt/rdtt, prdtt/prnatt, rtrnap2/rdtt, prtrnap2/rtrnap2, prtrnap2/prdtt,
localization/bp, osmp/metproc, cellloc/localization, mmloc/localization, estloc/localization, osbp/osmp, osbp/biosyn, occmp/osmp, cmmloc/cellloc, cmmloc/mmloc, rloc/rbp, transport/estloc, occbp/occmp, occbp/osbp, rcellloc/rloc, protloc/mmloc, ccsig/cellcomm, ccsig/signaling, exportcell/transport, nct/transport, lmp/pmp, lmp/osmp, rpl/rloc, epl/protloc, epl/estloc, pltecr/protloc, secretion/exportcell, rlmp/rpmp, lbp/lmp, lbp/osbp, epltecr/epl, epltecr/pltecr, secbycell/secretion, prottrans/epl, prottrans/nct, lipexp/exportcell, rsec/rtransport, prlmp/rlmp, prlmp/prmp, rlbp/rlmp, rlbp/rbiosyn, rsmp/rlmp, rsecbycell/rsec, protsec/secbycell, protsec/prottrans, rprottrans/rtransport, rprottrans/rpl, sigrel/secbycell, prsec/rsec, prsec/prtransport, prlbp/rlbp, prlbp/prlmp, prsmp/rsmp, prsmp/prlmp, rsbp/rlbp, rsbp/rsmp, prsecbycell/rsecbycell, prsecbycell/prsec, rprotsec/rsecbycell, rprotsec/rprottrans, prprottrans/rprottrans, prprottrans/prtransport, prsbp/rsbp, prsbp/prlbp, prsbp/prsmp, icotrans/liptrans, prprotsec/rprotsec, prprotsec/prsecbycell, prprotsec/prprottrans, icosec/lipexp, icosec/icotrans, pgtrans/icotrans, pgsec/icosec, pgsec/pgtrans, ricosec/rsec, rpgsec/ricosec, pricosec/ricosec, pricosec/prsec, prpgsec/rpgsec, prpgsec/pricosec, prpgsec/prsecbycell,
homeo/bp, lipidloc/localization, chemh/homeo, cellh/homeo, ost/transport, rlipidloc/rloc, inorgh/chemh, monoh/chemh, icch/chemh, icch/cellh, smp/lmp, rtransport/rloc, liptrans/ost, oat/ost, oacidt/ost, prlipidloc/rlipidloc, mch/monoh, imih/monoh, imih/icch, sbp/smp, sbp/lbp, prtransport/rtransport, rliptrans/rtransport, cat/oacidt, cat/oat, roat/rtransport, sih/mch, sih/inorgh, imch/mch, imch/imih, prliptrans/rliptrans, prliptrans/prtransport, mcat/cat, proat/roat, proat/prtransport, isih/sih, isih/imch, fat/liptrans, fat/mcat, rfat/rliptrans, rfat/roat, prfat/rfat, prfat/prliptrans, prfat/proat}
  \draw[ge] (\a) -- (\b);
% blue (part of)
\foreach \a/\b in {pm/cellper, cytoplasm/ias, intorg/ias, extspace/extreg, cytosol/cytoplasm, asm/asd, tubed/mod, sysdev/mod, asfim/asm, tubem/tubed, epicd/epidev, dpsc/mod, vascd/circd, bvd/vascd, kerd/skind, gonad/dpsc, bvm/bvd, kerat/kerd, angio/bvm, dpmsc/msd, dpsc/sexdiff, msd/mod, scd/mgd, scdev/scd, epcd/epithd, epcdev/epcd, celldev/celldiff, reprop/repro, pcdinv/celldev, leukdiff/hemo, itcpt/tcdt, asp/apoptotic, sigtrans/cellcomm, sigtrans/signaling, sigtrans/crstim, ccp/cellcycle, mccp/mcc, whiir/irtw, ctrinv/whiir, cmsp/crcyt, rtmbo/rtbact, natt/geneexp, sigrel/ccsig, liptrans/lipidloc}
  \draw[be] (\a) -- (\b);
% black (regulates)
\foreach \a/\b in {rasm/asm, rmod/mod, rvd/vascd, rangio/angio, rdevp/devp, rsysp/sysproc, rcelldiff/celldiff, rnsp/nsp, rcelldev/celldev, rsp/sensp, repcd/epcd, rspp/spp, rescb/escb, rreprop/reprop, rcelladh/celladh, rccadh/ccadh, rleukact/leukact, rlcca/lcca, rlymact/lymact, rtca/tcellact, rlymprolif/lymprolif, rtcp/tcp, ritcp/itcp, ritcpt/itcpt, rmop/mop, rcpp/cpp, rleukprolif/leukprolif, rmcprolif/mcprolif, risp/isp, rleukmig/leukmig, rcellmig/cellmig, rneutmig/neutmig, rbp/bp, rloco/locomotion, rcellmot/cellmot, rsignaling/signaling, rrs/rts, rcp/cellproc, rrstress/rtstress, rcc/cellcomm, rst/sigtrans, rcrs/crstress, rikb/ikb, rist/ist, rmapk/mapk, rsapk/sapk, rerk/erk, rsamapk/samapk, rjnk/jnk, rcelldiv/celldiv, rcellcycle/cellcycle, rafbp/afbp, rccp/ccp, rmcc/mcc, rcytprod/cytprod, rvegfp/vegfp, ril2p/il2p, ril6p/il6p, rtnfsfp/tnfsfp, rtnfp/tnfp, rcco/cco, rgeneexp/geneexp, rorgorg/orgorg, rcytoorg/cytoorg, racto/acto, rnucdiv/nucdiv, rmnd/mnd, rmp/metproc, rcmp/cmp, rmmp/mmp, rncmp/ncmp, rbiosyn/biosyn, rpmp/pmp, rcbp/cbp, rmbp/mbp, rncbcmp/nbcmp, rrnamp/rnamp, rrnabp/rnabp, rnatt/natt, rdtt/dtt, rtrnap2/trnap2, repl/epl, rloc/localization, rcellloc/cellloc, rpl/protloc, rlmp/lmp, rsec/secretion, rlbp/lbp, rsmp/smp, rsecbycell/secbycell, rprottrans/prottrans, rsbp/sbp, rprotsec/protsec, ricosec/icosec, rpgsec/pgsec, rlipidloc/lipidloc, rtransport/transport, rliptrans/liptrans, roat/oacidt, rfat/fat, rcellact/cellact}
  \draw[ke] (\a) -- (\b);
% green (positively regulates)
\foreach \a/\b in {prvd/vascd, prangio/angio, prdevp/devp, prcelladh/celladh, prccadh/ccadh, prlcca/lcca, prcellact/cellact, prleukact/leukact, prlymact/lymact, prtca/tcellact, prtcp/tcp, pritcp/itcp, pritcpt/itcpt, prlymprolif/lymprolif, prmop/mop, prcpp/cpp, prleukprolif/leukprolif, prmcprolif/mcprolif, prisp/isp, prleukmig/leukmig, prcellmig/cellmig, prneutmig/neutmig, prcellmot/cellmot, prbp/bp, prloco/locomotion, prsignaling/signaling, prrs/rts, prst/sigtrans, prcc/cellcomm, prist/ist, prikb/ikb, prmapk/mapk, prsapk/sapk, prerk/erk, prsamapk/samapk, prjnk/jnk, prcp/cellproc, prcelldiv/celldiv, prcellcycle/cellcycle, prccp/ccp, prcytprod/cytprod, prvegfp/vegfp, pril2p/il2p, pril6p/il6p, prtnfsfp/tnfsfp, prtnfp/tnfp, prcco/cco, prgeneexp/geneexp, prorgorg/orgorg, prnucdiv/nucdiv, prmnd/mnd, prmp/metproc, prcmp/cmp, prmmp/mmp, prcbp/cbp, prncmp/ncmp, prbiosyn/biosyn, prmbp/mbp, prncbcmp/nbcmp, prrnamp/rnamp, prrnabp/rnabp, prnatt/natt, prdtt/dtt, prtrnap2/trnap2, prpl/protloc, prepl/epl, prlmp/lmp, prsec/secretion, prlbp/lbp, prsmp/smp, prsecbycell/secbycell, prprottrans/prottrans, prsbp/sbp, prprotsec/protsec, pricosec/icosec, prpgsec/pgsec, prlipidloc/lipidloc, prtransport/transport, prliptrans/liptrans, proat/oacidt, prfat/fat}
  \draw[gre] (\a) -- (\b);
% red (negatively regulates)
\foreach \a/\b in {nrdevp/devp, nrcd/celldiff, nrcdev/celldev, nrepcd/epcd, nrescb/escb, nrrp/reprop, nrbp/bp, nrcp/cellproc, nrcpp/cpp}
  \draw[re] (\a) -- (\b);
\end{pgfonlayer}
\end{tikzpicture}
\end{document}
